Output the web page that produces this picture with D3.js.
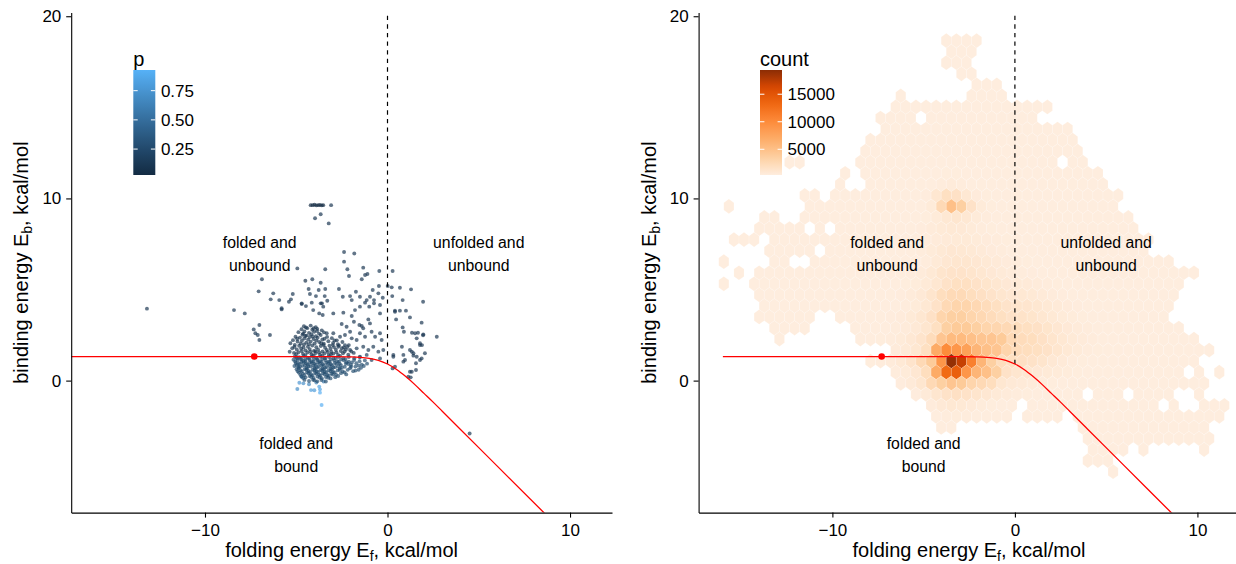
<!DOCTYPE html>
<html>
<head>
<meta charset="utf-8">
<script src="https://cdn.jsdelivr.net/npm/d3@7"></script>
<style>
  body { margin: 0; background: #fff; }
  svg text { font-family: "Liberation Sans", Arial, Helvetica, sans-serif; }
</style>
</head>
<body>
<svg id="chart" width="1236" height="564"></svg>
<script>
// ---------------- data ----------------
const xTicks = [-10, 0, 10];
const yTicks = [0, 10, 20];
const xLim = [-17.33, 12.3];
const yLim = [-7.245, 20.2];

// binding threshold curve (folding energy -> binding energy)
const curveX = [-17.33, -6, -4, -3, -2, -1.5, -1, -0.5, 0, 0.5, 1, 1.5, 2, 2.5, 3, 4, 6, 8.7];
const curveY = [1.32, 1.32, 1.32, 1.316, 1.30, 1.275, 1.22, 1.11, 0.91, 0.61, 0.22, -0.22, -0.70, -1.18, -1.68, -2.68, -4.68, -7.38];
const curveStartX = [-17.33, -16.0];       // where the threshold line begins in each panel
const wildType = [-7.3, 1.32];             // highlighted reference point
const dividerX = 0, dividerFromY = 0.91;   // dashed folded/unfolded boundary

const regionX = [-7, 5, -5];
const regionY = [7, 7, -4];
const regionText = [["folded and", "unbound"], ["unfolded and", "unbound"], ["folded and", "bound"]];

// measured variants: [folding energy, binding energy, p]
const variants = [
  [-13.18, 3.95, .10], [4.5, -2.90, .12],
  [-8.41, 3.87, .10], [-7.82, 3.69, .10], [-7.02, 3.05, .10], [-7.33, 2.81, .10], [-7.24, 2.60, .10],
  [-7.11, 2.50, .12], [-6.44, 2.50, .10], [-7.02, 2.23, .10],
  [-6.88, 5.56, .10], [-7.06, 4.90, .10], [-6.26, 4.79, .10], [-6.40, 4.46, .10], [-5.93, 4.42, .10],
  [-5.29, 4.46, .10], [-5.19, 4.75, .10], [-5.40, 4.33, .10], [-5.80, 3.97, .10], [-4.70, 4.24, .10],
  [-4.94, 6.16, .10], [-4.50, 5.48, .05], [-4.12, 5.56, .10], [-3.66, 5.37, .10], [-3.41, 6.11, .10],
  [-2.20, 6.11, .10], [-1.33, 6.20, .10], [-0.45, 6.02, .12], [0.28, 6.02, .10],
  [-2.38, 7.06, .10], [-1.82, 6.98, .10], [-2.38, 6.53, .10], [-2.11, 5.74, .10], [-1.23, 5.80, .10],
  [-1.10, 5.85, .10], [-1.41, 5.56, .10],
  [-0.47, 5.19, .10], [0.01, 5.19, .10], [0.23, 5.12, .10], [0.68, 5.10, .10], [1.29, 5.01, .10],
  [-4.32, 5.03, .10], [-4.25, 4.75, .10], [-3.92, 4.64, .10], [-3.77, 4.97, .10], [-3.41, 5.03, .10],
  [-3.44, 4.64, .10], [-3.30, 4.38, .10], [-3.59, 4.24, .10], [-2.66, 5.03, .10], [-2.45, 4.60, .10],
  [-2.05, 4.64, .10], [-1.96, 4.42, .10], [-1.73, 4.88, .10], [-1.51, 4.60, .10], [-1.14, 4.42, .10],
  [-0.96, 4.60, .10], [-0.81, 4.97, .10], [-0.50, 4.79, .10], [-0.26, 4.55, .10], [-0.74, 4.42, .10],
  [0.26, 4.64, .10], [0.83, 4.42, .10], [1.95, 4.33, .10], [0.41, 3.84, .10], [0.68, 3.84, .10],
  [1.01, 3.84, .10], [0.47, 3.36, .10], [1.23, 3.47, .10], [1.87, 3.18, .10], [0.83, 2.92, .10],
  [1.34, 2.63, .10], [1.67, 2.63, .10], [1.95, 2.49, .10], [2.70, 2.41, .10], [1.78, 1.95, .10],
  [1.89, 1.95, .10], [0.79, 1.86, .10], [1.33, 1.59, .10], [1.42, 1.37, .10], [1.56, 0.95, .10],
  [1.78, 1.13, .10], [0.96, 1.13, .10], [0.87, 1.41, .10], [0.32, 1.41, .10], [0.28, 0.67, .10],
  [1.23, 0.49, .10], [1.27, 0.18, .10],
  [-4.21, 9.63, .02], [-4.10, 9.63, .02], [-4.00, 9.65, .03], [-3.90, 9.62, .03], [-3.80, 9.63, .02],
  [-3.70, 9.64, .03], [-3.60, 9.62, .03], [-3.52, 9.63, .04], [-3.09, 9.63, .10], [-3.97, 8.91, .10],
  [-3.66, 9.13, .10], [-3.22, 8.63, .10],
  [-5.80, 3.91, .10], [-4.70, 4.20, .10], [-4.47, 4.09, .10], [-4.15, 4.28, .10], [-4.07, 3.87, .10],
  [-3.66, 4.24, .10], [-3.52, 4.06, .10], [-3.74, 3.69, .10], [-3.55, 3.60, .10], [-2.97, 3.69, .10],
  [-2.42, 3.73, .10], [-1.96, 3.55, .10], [-1.78, 3.87, .10], [-1.51, 4.06, .10], [-1.23, 4.28, .10],
  [-1.00, 4.06, .10], [-0.74, 4.24, .10], [-0.41, 4.15, .10], [-0.41, 3.69, .10], [0.41, 3.78, .10],
  [-2.51, 3.11, .10], [-2.24, 2.96, .10], [-2.05, 2.68, .10], [-1.84, 3.23, .10], [-1.54, 3.05, .10],
  [-1.41, 3.00, .10], [-1.33, 2.87, .10], [-1.05, 3.36, .10], [-0.96, 3.14, .10],
  [-3.33, 2.60, .10], [-2.97, 2.60, .10], [-2.60, 2.41, .10], [-2.33, 2.50, .10], [-1.96, 2.32, .10],
  [-1.69, 2.23, .10], [-1.51, 2.60, .10], [-1.23, 2.41, .10], [-0.87, 2.68, .10], [-0.68, 2.41, .10],
  [-0.41, 2.60, .10], [-0.32, 2.23, .10],
  [-2.70, 1.86, .12], [-2.33, 1.95, .12], [-2.05, 1.68, .12], [-1.69, 1.77, .12], [-1.33, 1.86, .12],
  [-1.05, 1.68, .12], [-0.78, 1.86, .12], [-0.50, 1.59, .12], [-0.23, 1.68, .12], [-1.14, 1.41, .15],
  [-1.51, 1.31, .15], [-0.87, 1.13, .15], [-0.41, 1.22, .15],
  [0.90, 2.68, .10], [1.51, 2.60, .10], [1.96, 2.54, .10], [1.60, 2.32, .10], [1.78, 2.05, .10],
  [1.23, 1.68, .10], [1.42, 1.50, .10], [1.60, 1.31, .10], [0.32, 1.31, .10], [0.41, 0.76, .10],
  [0.87, 1.04, .10], [1.33, 0.49, .10], [1.56, 0.58, .10], [1.14, 0.21, .10], [1.87, 1.22, .10],
  [2.05, 1.50, .10],
  [-4.83, -0.12, .75], [-4.61, -0.15, .70], [-4.19, -0.52, .80], [-4.01, -0.53, .78], [-3.70, -0.48, .85],
  [-3.70, -0.66, .90], [-3.74, -0.33, .82], [-4.94, -0.46, .70], [-3.61, -1.34, .90], [-4.70, 0.20, .60],
  [-4.30, -0.20, .65], [-3.90, -0.10, .60], [-3.50, -0.05, .55]
];

// dense cluster around the wild-type binding energy: [folding energy, binding energy]
const clusterUpperP = 0.09;
const clusterUpper = [
  [-4.58, 2.98], [-4.21, 3.02], [-3.93, 2.93], [-4.71, 2.82], [-4.40, 2.88], [-4.12, 2.79], [-3.85, 2.84],
  [-3.60, 2.76], [-4.88, 2.66], [-4.55, 2.70], [-4.30, 2.62], [-4.02, 2.68], [-3.75, 2.58], [-3.48, 2.65],
  [-4.66, 2.52], [-4.44, 2.47], [-4.17, 2.55], [-3.92, 2.44], [-3.66, 2.50], [-5.04, 2.41], [-4.80, 2.36],
  [-4.56, 2.31], [-4.26, 2.39], [-4.05, 2.28], [-3.83, 2.35], [-3.57, 2.26], [-3.31, 2.40], [-3.05, 2.33],
  [-2.78, 2.21], [-5.18, 2.22], [-4.93, 2.15], [-4.69, 2.19], [-4.45, 2.08], [-4.21, 2.14], [-3.99, 2.04],
  [-3.74, 2.12], [-3.49, 2.02], [-3.24, 2.16], [-2.98, 2.07], [-2.72, 2.00], [-2.47, 2.12], [-5.32, 2.05],
  [-5.08, 1.96], [-4.84, 1.91], [-4.58, 1.98], [-4.36, 1.86], [-4.12, 1.93], [-3.90, 1.83], [-3.66, 1.90],
  [-3.42, 1.80], [-3.18, 1.92], [-2.93, 1.84], [-2.66, 1.93], [-2.39, 1.82], [-2.12, 1.95], [-5.22, 1.78],
  [-4.97, 1.71], [-4.73, 1.76], [-4.49, 1.66], [-4.26, 1.73], [-4.03, 1.63], [-3.80, 1.70], [-3.56, 1.60],
  [-3.33, 1.68], [-3.08, 1.58], [-2.83, 1.69], [-2.56, 1.62], [-2.28, 1.71], [-1.98, 1.60], [-5.36, 1.58],
  [-5.12, 1.52], [-4.88, 1.56], [-4.63, 1.47], [-4.39, 1.54], [-4.16, 1.44], [-3.93, 1.51], [-3.70, 1.42],
  [-3.46, 1.49], [-3.22, 1.40], [-2.97, 1.48], [-2.71, 1.41], [-2.44, 1.50], [-2.15, 1.42], [-1.85, 1.52],
  [-4.47, 2.92], [-4.05, 2.87], [-4.62, 2.58], [-3.86, 2.72], [-4.35, 2.25], [-3.63, 2.05], [-4.76, 2.03],
  [-3.12, 1.75], [-4.60, 1.82], [-3.95, 1.62], [-2.50, 1.78], [-4.10, 2.42],
  [-4.95, 2.30], [-4.50, 2.45], [-3.45, 2.30], [-2.90, 2.20], [-5.10, 1.85], [-4.70, 1.62], [-4.22, 1.58],
  [-3.75, 1.55], [-3.28, 1.57], [-2.80, 1.55], [-2.35, 1.60], [-5.00, 1.45], [-4.50, 1.40], [-4.05, 1.38],
  [-3.58, 1.36], [-3.10, 1.45], [-2.60, 1.36], [-2.20, 1.85], [-3.90, 2.20], [-4.30, 2.00], [-3.50, 1.95],
  [-3.00, 1.95]
];
const clusterCoreP = 0.27;
const clusterCore = [
  [-5.08, 1.33], [-4.84, 1.28], [-4.60, 1.35], [-4.37, 1.25], [-4.14, 1.32], [-3.91, 1.24], [-3.68, 1.31],
  [-3.45, 1.22], [-3.21, 1.30], [-2.96, 1.21], [-2.70, 1.29], [-2.42, 1.22], [-2.12, 1.30], [-1.82, 1.23],
  [-1.52, 1.28],
  [-5.15, 1.15], [-4.93, 1.10], [-4.71, 1.17], [-4.49, 1.07], [-4.27, 1.14], [-4.05, 1.05], [-3.83, 1.12],
  [-3.61, 1.03], [-3.39, 1.11], [-3.16, 1.02], [-2.92, 1.10], [-2.67, 1.03], [-2.40, 1.12], [-2.12, 1.04],
  [-1.83, 1.13], [-1.53, 1.06], [-1.24, 1.11],
  [-5.03, 0.97], [-4.81, 0.92], [-4.59, 0.99], [-4.37, 0.89], [-4.15, 0.96], [-3.93, 0.87], [-3.71, 0.94],
  [-3.49, 0.85], [-3.27, 0.93], [-3.04, 0.84], [-2.80, 0.92], [-2.55, 0.85], [-2.28, 0.94], [-2.00, 0.86],
  [-1.71, 0.95], [-1.41, 0.88], [-1.12, 0.93],
  [-5.10, 0.80], [-4.88, 0.74], [-4.66, 0.81], [-4.44, 0.71], [-4.22, 0.78], [-4.00, 0.69], [-3.78, 0.76],
  [-3.56, 0.67], [-3.34, 0.75], [-3.11, 0.66], [-2.87, 0.74], [-2.61, 0.67], [-2.34, 0.76], [-2.05, 0.68],
  [-1.76, 0.77], [-1.45, 0.70],
  [-4.98, 0.62], [-4.76, 0.56], [-4.54, 0.63], [-4.32, 0.53], [-4.10, 0.60], [-3.88, 0.51], [-3.66, 0.58],
  [-3.44, 0.49], [-3.22, 0.57], [-2.98, 0.48], [-2.73, 0.56], [-2.46, 0.50], [-2.18, 0.59], [-1.88, 0.52],
  [-1.58, 0.60],
  [-4.86, 0.44], [-4.63, 0.38], [-4.41, 0.45], [-4.19, 0.35], [-3.97, 0.42], [-3.75, 0.33], [-3.53, 0.40],
  [-3.30, 0.31], [-3.07, 0.39], [-2.82, 0.32], [-2.55, 0.41], [-2.26, 0.34],
  [-4.72, 0.24], [-4.49, 0.18], [-4.27, 0.25], [-4.05, 0.15], [-3.83, 0.22], [-3.60, 0.13], [-3.37, 0.20],
  [-3.12, 0.12], [-2.86, 0.19],
  [-4.55, 0.04], [-4.30, -0.02], [-4.08, 0.05], [-3.85, -0.04], [-3.62, 0.03], [-3.38, -0.05],
  [-4.95, 1.22], [-4.50, 1.19], [-4.03, 1.20], [-3.57, 1.18], [-3.10, 1.17], [-2.55, 1.16], [-4.72, 1.02],
  [-4.25, 1.00], [-3.80, 0.99], [-3.35, 0.98], [-2.88, 0.97], [-4.97, 0.86], [-4.52, 0.84], [-4.06, 0.82],
  [-3.62, 0.81], [-3.18, 0.80], [-2.70, 0.79], [-4.86, 0.68], [-4.40, 0.66], [-3.95, 0.64], [-3.50, 0.63],
  [-3.05, 0.62], [-4.70, 0.50], [-4.25, 0.48], [-3.80, 0.47], [-3.36, 0.46], [-2.90, 0.45], [-4.55, 0.31],
  [-4.12, 0.29], [-3.68, 0.28], [-3.22, 0.27],
  [-5.00, 1.27], [-4.77, 1.20], [-4.30, 1.21], [-3.85, 1.19], [-3.40, 1.25], [-2.85, 1.24], [-2.30, 1.18],
  [-5.06, 1.05], [-4.62, 1.08], [-4.15, 1.05], [-3.70, 1.06], [-3.22, 1.04], [-2.75, 1.07], [-2.25, 1.01],
  [-1.95, 1.00], [-4.90, 0.91], [-4.46, 0.95], [-4.00, 0.92], [-3.55, 0.90], [-3.10, 0.90], [-2.62, 0.93],
  [-2.15, 0.91], [-1.58, 0.82], [-4.80, 0.76], [-4.33, 0.80], [-3.87, 0.73], [-3.42, 0.70], [-2.97, 0.72],
  [-2.50, 0.71], [-2.00, 0.76], [-1.30, 0.80], [-4.92, 0.52], [-4.45, 0.59], [-4.00, 0.55], [-3.58, 0.54],
  [-3.12, 0.52], [-2.62, 0.60], [-2.35, 0.45], [-1.75, 0.55], [-4.78, 0.33], [-4.33, 0.40], [-3.90, 0.37],
  [-3.45, 0.35], [-3.00, 0.33], [-2.70, 0.25], [-4.62, 0.14], [-4.18, 0.20], [-3.72, 0.17], [-3.25, 0.16],
  [-4.00, 0.02]
];
const pLimits = [0.028, 0.927];
const pBreaks = [0.25, 0.50, 0.75];

// hexagonal bin counts of the full library: [row, first column, counts...]
const hexGridX0 = -16.226, hexGridY0 = -5.0, hexStepX = 0.554, hexStepY = 0.6067;
const hexRows = [
  [39, 22, [55, 80, 75, 45]],
  [38, 23, [100, 110, 65]],
  [37, 22, [60, 90, 80]],
  [36, 24, [80, 70]],
  [35, 25, [80, 90, 55]],
  [34, 18, [40, 0, 0, 0, 0, 0, 0, 110, 120, 100, 60]],
  [33, 17, [50, 65, 80, 100, 120, 140, 160, 170, 170, 160, 150, 135, 115, 95, 75, 55]],
  [32, 16, [50, 70, 90, 110, 0, 150, 180, 200, 210, 200, 185, 165, 145, 120, 100, 80]],
  [31, 16, [60, 80, 100, 120, 150, 180, 210, 230, 220, 210, 195, 180, 160, 140, 120, 100, 85, 70, 55]],
  [30, 15, [50, 70, 90, 110, 140, 170, 200, 230, 250, 240, 225, 205, 185, 165, 145, 125, 110, 95, 80, 65, 50]],
  [29, 14, [50, 70, 90, 110, 140, 170, 200, 230, 260, 270, 260, 240, 220, 195, 170, 150, 130, 110, 95, 80, 65, 50]],
  [28, 7, [60, 50, 0, 0, 0, 0, 0, 60, 80, 100, 120, 150, 190, 230, 270, 300, 310, 290, 260, 230, 200, 175, 150, 130, 110, 90, 70, 0, 55, 40]],
  [27, 12, [60, 0, 60, 80, 100, 130, 160, 200, 250, 300, 360, 380, 340, 290, 250, 210, 180, 160, 140, 120, 100, 85, 70, 60, 50, 40]],
  [26, 12, [50, 0, 0, 70, 90, 110, 140, 180, 240, 320, 450, 520, 450, 350, 290, 240, 200, 170, 150, 130, 110, 95, 80, 70, 60, 50, 40]],
  [25, 8, [50, 60, 0, 60, 70, 80, 90, 100, 120, 150, 190, 250, 400, 1000, 1800, 1600, 900, 500, 380, 300, 250, 210, 180, 150, 130, 110, 95, 85, 75, 65, 55, 45]],
  [24, 1, [50, 0, 0, 0, 0, 0, 0, 0, 50, 60, 70, 80, 90, 100, 120, 140, 170, 210, 260, 350, 600, 2500, 5000, 3500, 1500, 600, 380, 300, 250, 210, 180, 150, 130, 110, 90, 80, 70, 60, 50]],
  [23, 4, [50, 60, 0, 0, 50, 60, 70, 80, 90, 100, 110, 130, 150, 180, 220, 280, 380, 600, 900, 1100, 900, 600, 420, 340, 290, 250, 220, 190, 160, 140, 120, 100, 90, 80, 70, 60, 50]],
  [22, 4, [50, 60, 60, 70, 70, 0, 80, 0, 90, 100, 110, 130, 150, 180, 230, 290, 400, 560, 700, 800, 750, 600, 460, 380, 320, 270, 230, 200, 170, 150, 130, 110, 95, 85, 75, 65, 55, 45]],
  [21, 1, [50, 60, 50, 0, 60, 70, 80, 90, 100, 110, 120, 130, 140, 150, 160, 180, 210, 260, 330, 440, 560, 650, 700, 680, 600, 500, 420, 360, 300, 260, 220, 190, 165, 145, 125, 110, 95, 85, 75, 65, 55, 45]],
  [20, 5, [60, 70, 80, 80, 90, 0, 100, 110, 120, 140, 150, 170, 200, 250, 320, 430, 600, 800, 950, 900, 780, 620, 500, 420, 350, 290, 250, 210, 180, 160, 140, 120, 105, 90, 80, 70, 60, 50]],
  [19, 0, [50, 0, 0, 0, 0, 70, 80, 0, 0, 100, 110, 120, 130, 150, 160, 180, 200, 230, 280, 350, 460, 700, 950, 1100, 1100, 950, 780, 620, 500, 420, 360, 300, 250, 210, 180, 160, 140, 120, 105, 90, 80, 70, 60, 50, 40]],
  [18, 2, [50, 0, 60, 70, 80, 90, 100, 110, 120, 130, 140, 160, 180, 200, 220, 260, 320, 400, 550, 800, 1200, 1400, 1400, 1200, 1000, 820, 660, 540, 460, 400, 340, 290, 250, 220, 190, 165, 145, 125, 110, 95, 85, 75, 65, 55, 50, 40]],
  [17, 0, [50, 0, 0, 60, 70, 80, 90, 100, 110, 120, 140, 150, 170, 190, 210, 240, 260, 300, 370, 480, 700, 1000, 1500, 1800, 1800, 1500, 1250, 1000, 820, 700, 640, 540, 440, 360, 300, 250, 210, 180, 155, 135, 115, 100, 85, 70, 60, 50]],
  [16, 4, [60, 70, 80, 90, 100, 110, 130, 150, 170, 190, 210, 240, 270, 320, 400, 520, 750, 1200, 2000, 2400, 2400, 2000, 1700, 1400, 1100, 950, 900, 780, 620, 500, 400, 330, 270, 225, 185, 155, 130, 110, 95, 80, 65, 50]],
  [15, 4, [60, 70, 80, 90, 100, 120, 140, 160, 180, 200, 230, 260, 290, 340, 440, 600, 900, 1500, 2500, 3000, 3000, 2600, 2200, 1800, 1400, 1200, 1150, 1000, 800, 640, 500, 400, 320, 265, 215, 180, 150, 120, 95, 75, 55]],
  [14, 4, [60, 70, 80, 80, 90, 100, 0, 0, 200, 230, 260, 290, 330, 400, 500, 700, 1000, 1600, 3000, 3500, 3500, 3000, 2600, 2200, 1800, 1500, 1450, 1250, 1000, 780, 600, 470, 370, 300, 250, 205, 170, 135, 105, 80, 60]],
  [13, 5, [60, 70, 80, 90, 0, 0, 0, 0, 220, 260, 300, 340, 420, 550, 750, 1100, 1800, 3500, 4000, 4000, 3500, 3000, 2800, 2500, 2000, 1800, 1600, 1250, 950, 720, 560, 440, 350, 280, 230, 185, 150, 120, 95, 70, 50]],
  [12, 6, [60, 0, 0, 0, 0, 0, 0, 0, 260, 320, 380, 460, 600, 850, 1300, 2200, 4500, 5500, 5500, 5000, 4500, 4500, 4000, 2500, 2200, 2000, 1600, 1200, 900, 700, 550, 430, 340, 270, 215, 175, 140, 115, 95, 75, 60, 45]],
  [11, 17, [520, 700, 1000, 1800, 7000, 10000, 9000, 8000, 6000, 5000, 4500, 3000, 2200, 2000, 1800, 1500, 1100, 800, 600, 460, 360, 280, 220, 180, 150, 125, 100, 85, 70, 60, 50, 40]],
  [10, 15, [380, 460, 560, 800, 1300, 2500, 4000, 9000, 19000, 17000, 11000, 6000, 3500, 2000, 1800, 1700, 1500, 1200, 850, 620, 460, 360, 280, 230, 190, 155, 130, 105, 85, 70, 60, 50, 40]],
  [9, 17, [420, 600, 950, 2000, 7000, 13000, 14000, 9000, 6000, 5000, 3500, 1500, 1100, 950, 820, 700, 580, 470, 380, 310, 250, 200, 165, 135, 110, 90, 75, 60, 50, 0, 45, 0, 40]],
  [8, 18, [400, 650, 1100, 2500, 3500, 4500, 4000, 3000, 2500, 2000, 1000, 750, 620, 520, 440, 370, 310, 260, 215, 180, 150, 125, 105, 90, 75, 65, 55, 50, 45, 40, 35]],
  [7, 19, [400, 650, 1100, 1500, 1700, 1500, 1200, 950, 700, 520, 420, 360, 300, 250, 210, 180, 150, 0, 110, 95, 80, 0, 60, 55, 50, 45, 0, 0, 40]],
  [6, 21, [500, 750, 900, 800, 620, 480, 360, 270, 200, 0, 150, 140, 130, 120, 110, 100, 90, 80, 70, 65, 60, 55, 50, 0, 45, 0, 0, 40, 40, 35]],
  [5, 21, [300, 420, 480, 420, 340, 260, 200, 150, 0, 110, 100, 90, 85, 0, 80, 80, 75, 75, 70, 70, 65, 60, 60, 55, 50, 45, 45, 40, 35]],
  [4, 22, [160, 120, 0, 0, 0, 0, 0, 0, 0, 0, 0, 0, 0, 0, 70, 70, 65, 65, 60, 60, 55, 55, 50, 45, 40, 40, 35]],
  [3, 36, [60, 60, 55, 55, 50, 50, 45, 45, 40, 40, 35, 35, 30]],
  [2, 37, [50, 45, 45, 40, 0, 35, 0, 0, 0, 0, 0, 30]],
  [1, 36, [40, 40, 35]],
  [0, 39, [30]]
];
const countLimits = [330, 19400];
const countBreaks = [5000, 10000, 15000];

// ---------------- layout & styles ----------------
const FONT = '"Liberation Sans", Arial, Helvetica, sans-serif';
const plotTop = 12.6, plotBottom = 512.6;
const panelBoxes = [{ x0: 71.2, x1: 612 }, { x0: 698.6, x1: 1239.4 }];
const oranges = ["#feedde", "#fdd0a2", "#fdae6b", "#fd8d3c", "#f16913", "#d94801", "#8c2d04"];

const svg = d3.select("#chart");
const defs = svg.append("defs");

const pColor = d3.scaleLinear().domain(pLimits).range(["#132B43", "#56B1F7"]).interpolate(d3.interpolateLab).clamp(true);
const countColor = d3.scaleLinear()
  .domain(oranges.map((_, i) => countLimits[0] + i * (countLimits[1] - countLimits[0]) / (oranges.length - 1)))
  .range(oranges).interpolate(d3.interpolateLab).clamp(true);

function makePanel(idx) {
  const b = panelBoxes[idx];
  const x = d3.scaleLinear().domain(xLim).range([b.x0, b.x1]);
  const y = d3.scaleLinear().domain(yLim).range([plotBottom, plotTop]);
  defs.append("clipPath").attr("id", "clip" + idx)
    .append("rect").attr("x", b.x0).attr("y", plotTop - 2)
    .attr("width", b.x1 - b.x0).attr("height", plotBottom - plotTop + 2);
  const g = svg.append("g");
  const plot = g.append("g").attr("clip-path", `url(#clip${idx})`);
  return { idx, b, x, y, g, plot };
}

function drawGuides(P) {
  const { x, y, plot, idx } = P;
  // dashed boundary at zero folding energy
  plot.append("line")
    .attr("x1", x(dividerX)).attr("x2", x(dividerX))
    .attr("y1", y(dividerFromY)).attr("y2", y(yLim[1]))
    .attr("stroke", "#000").attr("stroke-width", 1.2).attr("stroke-dasharray", "4.3,4.3");
  // threshold curve
  const start = curveStartX[idx];
  const pts = [[start, curveY[0]]].concat(curveX.map((v, i) => [v, curveY[i]]).filter(d => d[0] > start));
  plot.append("path").datum(pts)
    .attr("fill", "none").attr("stroke", "#ff0000").attr("stroke-width", 1.3)
    .attr("d", d3.line().x(d => x(d[0])).y(d => y(d[1])).curve(d3.curveMonotoneX));
  plot.append("circle").attr("cx", x(wildType[0])).attr("cy", y(wildType[1])).attr("r", 3.3).attr("fill", "#ff0000");
  // region annotations
  regionText.forEach((lines, i) => {
    const t = P.g.append("text").attr("text-anchor", "middle").attr("font-size", 15.8).attr("fill", "#000");
    const cy = y(regionY[i]);
    t.append("tspan").attr("x", x(regionX[i])).attr("y", cy - 4.8).text(lines[0]);
    t.append("tspan").attr("x", x(regionX[i])).attr("y", cy + 18.3).text(lines[1]);
  });
}

function drawAxes(P) {
  const { x, y, g, b } = P;
  const ax = g.append("g").attr("transform", `translate(0,${plotBottom})`).attr("font-family", FONT)
    .call(d3.axisBottom(x).tickValues(xTicks).tickSize(5).tickSizeOuter(0).tickPadding(6.7));
  const ay = g.append("g").attr("transform", `translate(${b.x0},0)`).attr("font-family", FONT)
    .call(d3.axisLeft(y).tickValues(yTicks).tickSize(5).tickSizeOuter(0).tickPadding(4.9));
  [ax, ay].forEach(a => {
    a.select(".domain").attr("stroke", "#000").attr("stroke-width", 1.1);
    a.selectAll(".tick line").attr("stroke", "#000").attr("stroke-width", 1.1);
    a.selectAll(".tick text").attr("font-size", 17).attr("fill", "#000");
  });
  // axis titles
  const xt = g.append("text").attr("x", (b.x0 + b.x1) / 2).attr("y", 557.2)
    .attr("text-anchor", "middle").attr("font-size", 20).attr("fill", "#000");
  xt.append("tspan").text("folding energy E");
  xt.append("tspan").attr("font-size", 14).attr("dy", 3.4).text("f");
  xt.append("tspan").attr("dy", -3.4).text(", kcal/mol");
  const yt = g.append("text").attr("transform", `translate(${b.x0 - 42.9},${(plotTop + plotBottom) / 2}) rotate(-90)`)
    .attr("text-anchor", "middle").attr("font-size", 20).attr("fill", "#000");
  yt.append("tspan").text("binding energy E");
  yt.append("tspan").attr("font-size", 14).attr("dy", 4).text("b");
  yt.append("tspan").attr("dy", -4).text(", kcal/mol");
}

function colorbar(id, bx, title, scale, limits, breaks, fmt) {
  const by0 = 70, by1 = 175, bw = 22;
  const grad = defs.append("linearGradient").attr("id", id).attr("x1", 0).attr("y1", 1).attr("x2", 0).attr("y2", 0);
  d3.range(0, 1.0001, 0.05).forEach(t => {
    grad.append("stop").attr("offset", t).attr("stop-color", scale(limits[0] + t * (limits[1] - limits[0])));
  });
  const g = svg.append("g");
  g.append("rect").attr("x", bx).attr("y", by0).attr("width", bw).attr("height", by1 - by0).attr("fill", `url(#${id})`);
  const pos = d3.scaleLinear().domain(limits).range([by1, by0]);
  breaks.forEach(v => {
    const yy = pos(v);
    g.append("line").attr("x1", bx).attr("x2", bx + bw / 5).attr("y1", yy).attr("y2", yy).attr("stroke", "#fff").attr("stroke-width", 1);
    g.append("line").attr("x1", bx + bw - bw / 5).attr("x2", bx + bw).attr("y1", yy).attr("y2", yy).attr("stroke", "#fff").attr("stroke-width", 1);
    g.append("text").attr("x", bx + bw + 5.6).attr("y", yy + 6).attr("font-size", 17).attr("fill", "#000").text(fmt(v));
  });
  g.append("text").attr("x", bx).attr("y", 65.5).attr("font-size", 20).attr("fill", "#000").text(title);
}

// ---------------- left panel: variants coloured by p ----------------
const L = makePanel(0);
const pts = variants
  .concat(clusterUpper.map(d => [d[0], d[1], clusterUpperP]))
  .concat(clusterCore.map(d => [d[0], d[1], clusterCoreP]));
L.plot.append("g").selectAll("circle").data(pts).join("circle")
  .attr("cx", d => L.x(d[0])).attr("cy", d => L.y(d[1])).attr("r", 1.95)
  .attr("fill", d => pColor(d[2])).attr("fill-opacity", 0.68);
drawGuides(L);
drawAxes(L);
colorbar("gradP", 133.3, "p", pColor, pLimits, pBreaks, d3.format(".2f"));

// ---------------- right panel: hexbin counts ----------------
const R = makePanel(1);
const hexCells = hexRows.flatMap(([k, c0, counts]) => counts.map((n, j) => ({ k, c: c0 + j, n }))).filter(d => d.n > 0);
const hdx = (R.x(hexStepX) - R.x(0)) / 2;
const hdy = (R.y(0) - R.y(hexStepY)) / 3;
const hexPath = `M${hdx},${-hdy}L${hdx},${hdy}L0,${2 * hdy}L${-hdx},${hdy}L${-hdx},${-hdy}L0,${-2 * hdy}Z`;
R.plot.append("g").selectAll("path").data(hexCells).join("path")
  .attr("transform", d => {
    const cx = hexGridX0 + (d.c + (d.k % 2 ? 0.5 : 0)) * hexStepX;
    const cy = hexGridY0 + d.k * hexStepY;
    return `translate(${R.x(cx)},${R.y(cy)})`;
  })
  .attr("d", hexPath)
  .attr("fill", d => countColor(d.n))
  .attr("stroke", "#fff").attr("stroke-width", 0.25).attr("stroke-opacity", 0.6);
drawGuides(R);
drawAxes(R);
colorbar("gradN", 760, "count", countColor, countLimits, countBreaks, d3.format("d"));
</script>
</body>
</html>
